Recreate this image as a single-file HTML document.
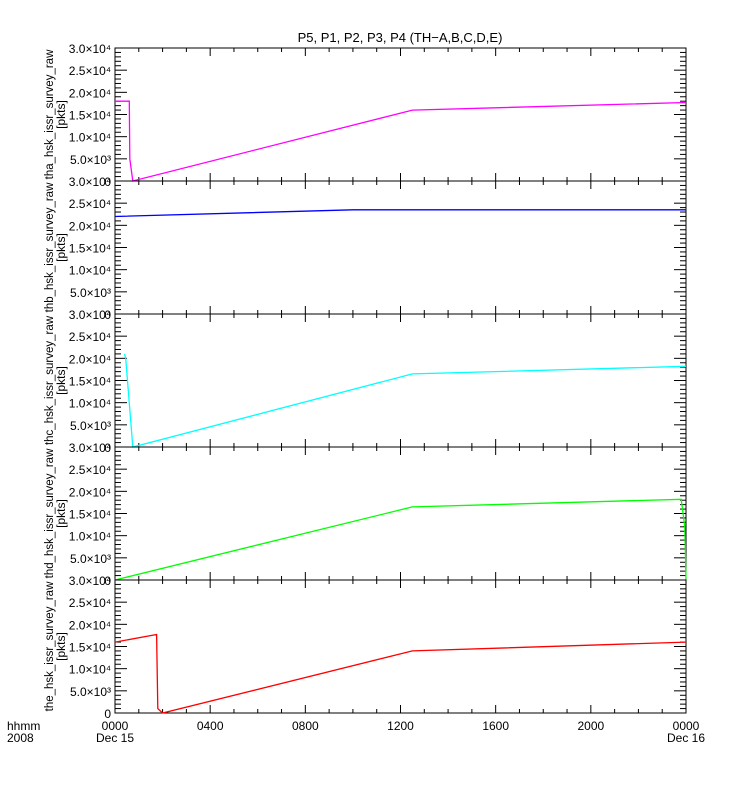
<!DOCTYPE html>
<html><head><meta charset="utf-8"><style>
body{margin:0;background:#fff}
svg{display:block;font-family:"Liberation Sans",sans-serif}
</style></head><body>
<svg id="c" width="750" height="800">
<text x="400" y="42" text-anchor="middle" font-size="13">P5, P1, P2, P3, P4 (TH−A,B,C,D,E)</text>
</svg>
<script>
const probes = ['tha','thb','thc','thd','the'];
const colors = ['#ff00ff','#0000ff','#00ffff','#00ff00','#ff0000'];
const tha_t = [0,0.6,0.62,0.75,12.5,24];
const tha_v = [18000,18000,5000,0,16000,17700];
const thb_t = [0,10,24];
const thb_v = [22000,23500,23500];
const thc_t = [0.4,0.45,0.75,12.5,24];
const thc_v = [21000,20000,0,16500,18200];
const thd_t = [0,12.5,23.8,23.95,24];
const thd_v = [0,16500,18200,12000,0];
const the_t = [0,1.75,1.8,2.0,12.5,24];
const the_v = [16000,17700,1000,0,14000,16000];
const series_t = [tha_t,thb_t,thc_t,thd_t,the_t];
const series_v = [tha_v,thb_v,thc_v,thd_v,the_v];
const yTickVals = [0,5000,10000,15000,20000,25000,30000];
const yTickLabels = ['0','5.0×10³','1.0×10⁴','1.5×10⁴','2.0×10⁴','2.5×10⁴','3.0×10⁴'];
const xTickHours = [0,4,8,12,16,20,24];
const xTickLabels = ['0000','0400','0800','1200','1600','2000','0000'];

const svg=document.getElementById('c');
const NS='http://www.w3.org/2000/svg';
const X0=115,X1=686,PT=48,PH=133;
const xs=h=>X0+(X1-X0)*h/24;
function mk(t,a,p){const e=document.createElementNS(NS,t);for(const k in a)e.setAttribute(k,a[k]);(p||svg).appendChild(e);return e;}
function ln(x1,y1,x2,y2,g){return mk('line',{x1,y1,x2,y2,stroke:'#000','stroke-width':1},g);}

probes.forEach((p,i)=>{
  const top=PT+i*PH, bot=top+PH;
  const ys=v=>bot-PH*v/30000;
  const g=mk('g',{});
  
  
  mk('rect',{x:X0,y:top,width:X1-X0,height:PH,fill:'none',stroke:'#000','stroke-width':1},g);
  for(let v=0;v<=30000;v+=1000){
    const major=v%5000===0, L=major?12:6, y=ys(v);
    ln(X0,y,X0+L,y,g); ln(X1-L,y,X1,y,g);
  }
  for(let h=0;h<=24;h++){
    const major=h%4===0, L=major?8:4;
    ln(xs(h),bot,xs(h),bot-L,g); ln(xs(h),top,xs(h),top+L,g);
  }
  yTickVals.forEach((v,k)=>{
    const t=mk('text',{x:X0-4,y:ys(v)+5,'text-anchor':'end','font-size':12},g);
    t.textContent=yTickLabels[k];
    
    
  });
  const cy=(top+bot)/2;
  const t1=mk('text',{x:0,y:0,'text-anchor':'middle','font-size':11.5,transform:`translate(53,${cy}) rotate(-90)`},g);
  t1.textContent=p+'_hsk_issr_survey_raw';
  
  
  const t2=mk('text',{x:0,y:0,'text-anchor':'middle','font-size':12,transform:`translate(65,${cy}) rotate(-90)`},g);
  t2.textContent='[pkts]';
  
  
  const pts=series_t[i].map((h,k)=>xs(h).toFixed(1)+','+ys(series_v[i][k]).toFixed(1)).join(' ');
  const pl=mk('polyline',{points:pts,fill:'none',stroke:colors[i],'stroke-width':1.3},g);
  
  
});
const bot=PT+5*PH;
xTickHours.forEach((h,k)=>{
  const t=mk('text',{x:xs(h),y:bot+17,'text-anchor':'middle','font-size':12});
  t.textContent=xTickLabels[k];
  
  
});
[['Dec 15',0],['Dec 16',24]].forEach(([s,h])=>{
  const t=mk('text',{x:xs(h),y:bot+29,'text-anchor':'middle','font-size':12});
  t.textContent=s;
  
  
});
const a=mk('text',{x:7,y:bot+17,'font-size':12});a.textContent='hhmm';


const b=mk('text',{x:7,y:bot+29,'font-size':12});b.textContent='2008';


</script>
</body></html>
